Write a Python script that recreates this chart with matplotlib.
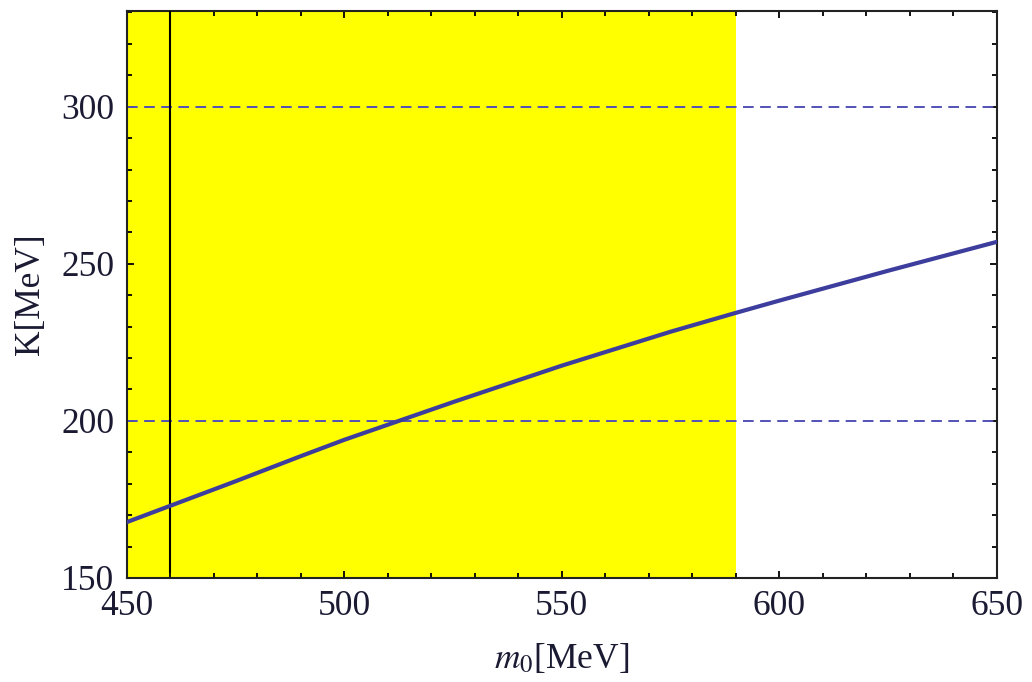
import matplotlib.pyplot as plt
from matplotlib.ticker import MultipleLocator

# data
m0 = [450, 460, 475, 490, 500, 512.5, 525, 550, 575, 590, 600, 625, 650]
K = [167.8, 173.0, 180.8, 188.8, 194.0, 200.0, 206.0, 217.6, 228.4, 234.4, 238.3, 247.8, 257.0]
ref_levels = [200, 300]
m0_line = 460
band = (450, 590)

plt.rcParams["font.family"] = ["Liberation Serif", "DejaVu Serif"]
plt.rcParams["mathtext.fontset"] = "stix"

fig = plt.figure(figsize=(10.32, 6.82), dpi=100)
ax = fig.add_axes([0.123, 0.1525, 0.843, 0.8315])

ax.axvspan(band[0], band[1], color="#ffff00", lw=0, zorder=0)
for lv in ref_levels:
    ax.axhline(lv, color="#5252b8", lw=1.4, ls=(0, (5.5, 3.3)), zorder=2)
ax.axvline(m0_line, ymin=0.01, ymax=1, color="black", lw=1.5, zorder=3)
ax.plot(m0, K, color="#3d3d9e", lw=3.0, zorder=4)

ax.set_xlim(450, 650)
ax.set_ylim(150, 330.5)
ax.xaxis.set_major_locator(MultipleLocator(50))
ax.xaxis.set_minor_locator(MultipleLocator(10))
ax.yaxis.set_major_locator(MultipleLocator(50))
ax.yaxis.set_minor_locator(MultipleLocator(10))
ax.tick_params(which="both", direction="in", top=True, right=True,
               color="black", width=1.3)
ax.tick_params(which="major", length=5, labelsize=25.5, pad=9, labelcolor="#1a1a33")
ax.tick_params(which="minor", length=3.5)
for s in ax.spines.values():
    s.set_linewidth(1.5)
    s.set_color("#222222")

ax.set_xlabel(r"$m_0$[MeV]", fontsize=25.5, color="#1a1a33", labelpad=13)
ax.set_ylabel("K[MeV]", fontsize=25.5, color="#1a1a33", labelpad=10)

plt.savefig("out.png", dpi=100, facecolor="white")
